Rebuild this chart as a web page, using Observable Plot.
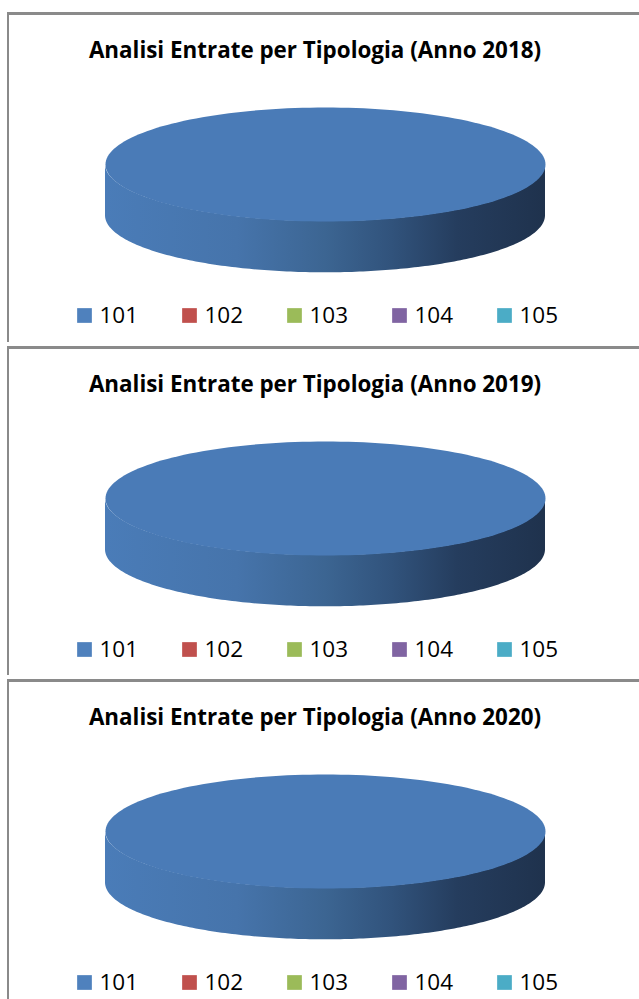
<!DOCTYPE html>
<html>
<head>
<meta charset="utf-8">
<script src="https://cdn.jsdelivr.net/npm/d3@7"></script>
<script src="https://cdn.jsdelivr.net/npm/@observablehq/plot@0.6"></script>
<style>
  body { margin: 0; background: #fff; overflow: hidden; width: 639px; height: 999px; position: relative; font-family: "Open Sans", sans-serif; }
  .panel { position: absolute; left: 0; width: 639px; overflow: hidden; }
  .frame { position: absolute; left: 7px; top: 0; width: 700px; height: 400px; border-top: 3px solid #8a8a8a; border-left: 2px solid #8a8a8a; box-sizing: border-box; }
  .panel svg { position: absolute; left: 0; }
</style>
</head>
<body>
<script>
// ---- data ----
const years = ["2018", "2019", "2020"];
const categories = ["101", "102", "103", "104", "105"];
const share2018 = [100, 0, 0, 0, 0];
const share2019 = [100, 0, 0, 0, 0];
const share2020 = [100, 0, 0, 0, 0];
const colors = ["#4F81BD", "#C0504D", "#9BBB59", "#8064A2", "#4BACC6"];
const titlePrefix = "Analisi Entrate per Tipologia (Anno ";

const shares = [share2018, share2019, share2020];
const topColor = {"101": "#4a7bb7", "102": "#c0504d", "103": "#9bbb59", "104": "#8064a2", "105": "#4bacc6"};
const sideStops = {
  "101": [[0, "#4a7cb8"], [0.3, "#4674ab"], [0.5, "#3c6592"], [0.65, "#31537c"], [0.8, "#253d5e"], [1, "#1f324d"]]
};

// ---- layout ----
const panelTops = [12, 346, 679];
const panelHeights = [330, 329, 320];
const depth = 0.9;

years.forEach((year, i) => {
  const panel = document.createElement("div");
  panel.className = "panel";
  panel.style.top = panelTops[i] + "px";
  panel.style.height = panelHeights[i] + "px";
  const frame = document.createElement("div");
  frame.className = "frame";
  panel.appendChild(frame);
  document.body.appendChild(panel);

  const values = shares[i];
  const arcs = d3.pie().sort(null)(values).map((a, k) => ({...a, cat: categories[k]}))
    .filter(a => a.endAngle - a.startAngle > 0);

  const topPts = [];
  const sideMarks = [];
  arcs.forEach(a => {
    const full = a.endAngle - a.startAngle >= 2 * Math.PI - 1e-9;
    const n = 180;
    if (!full) topPts.push({cat: a.cat, x: 0, y: 0});
    for (let j = 0; j <= n; j++) {
      const t = a.startAngle + (a.endAngle - a.startAngle) * j / n;
      topPts.push({cat: a.cat, x: Math.sin(t), y: -Math.cos(t)});
    }
    const s = Math.max(a.startAngle, Math.PI / 2), e = Math.min(a.endAngle, 3 * Math.PI / 2);
    if (e > s) {
      const band = [];
      for (let j = 0; j <= n; j++) {
        const t = s + (e - s) * j / n;
        band.push({x: Math.sin(t), y1: -Math.cos(t), y2: -Math.cos(t) + depth});
      }
      sideMarks.push(Plot.area(band, {x1: "x", y1: "y1", y2: "y2", fill: `url(#side-${year}-${a.cat})`, stroke: "none"}));
    }
  });

  const svg = Plot.plot({
    width: 639,
    height: 330,
    margin: 0,
    style: {background: "transparent", fontFamily: "'Open Sans', sans-serif", overflow: "visible"},
    x: {domain: [-1, 1], range: [105, 545], axis: null},
    y: {domain: [-1, 1], range: [95, 209], axis: null},
    color: {domain: categories, range: categories.map(c => topColor[c])},
    marks: [
      ...sideMarks,
      Plot.line(topPts, {x: "x", y: "y", z: "cat", fill: "cat", stroke: "none", curve: "linear"}),
      Plot.text([titlePrefix + year + ")"], {frameAnchor: "top", lineAnchor: "top", dx: -5, dy: 30, fontWeight: "bold", fontSize: 22.4, fill: "#000"})
    ]
  });
  const defs = d3.select(svg).insert("defs", ":first-child");
  arcs.forEach(a => {
    const g = defs.append("linearGradient").attr("id", `side-${year}-${a.cat}`)
      .attr("x1", 0).attr("x2", 1).attr("y1", 0).attr("y2", 0);
    (sideStops[a.cat] || [[0, topColor[a.cat]], [1, d3.color(topColor[a.cat]).darker(1.5)]]).forEach(([o, c]) => {
      g.append("stop").attr("offset", o).attr("stop-color", c);
    });
  });
  svg.style.top = "0px";
  panel.appendChild(svg);

  const legend = Plot.plot({
    width: 639,
    height: 30,
    margin: 0,
    style: {background: "transparent", fontFamily: "'Open Sans', sans-serif", overflow: "visible"},
    x: {type: "point", domain: categories, range: [83, 505], padding: 0, axis: null},
    color: {domain: categories, range: colors},
    marks: [
      Plot.dot(categories, {x: d => d, fill: d => d, symbol: "square", r: 8.3, stroke: "none"}),
      Plot.text(categories, {x: d => d, text: d => d, dx: 15, textAnchor: "start", fontSize: 22.5, fill: "#000"})
    ]
  });
  legend.style.top = "288px";
  panel.appendChild(legend);
});
</script>
</body>
</html>
